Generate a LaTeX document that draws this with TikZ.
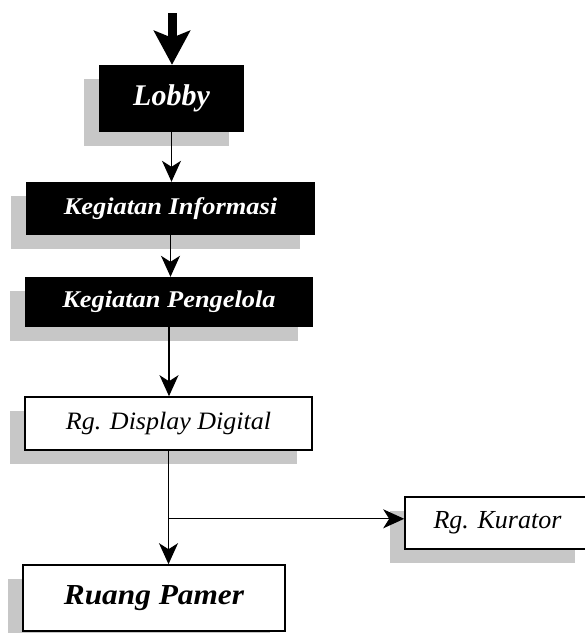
\documentclass[tikz,border=0pt]{standalone}
\usepackage{fontspec}
\setmainfont{Liberation Serif}
\newfontfamily\wideA[FakeStretch=1.1]{Liberation Serif}
\newfontfamily\wideB[FakeStretch=1.04]{Liberation Serif}
\newfontfamily\wideC[FakeStretch=1.08]{Liberation Serif}
\usetikzlibrary{arrows.meta,shadows}
\begin{document}
\begin{tikzpicture}[x=1pt,y=1pt,
  shade/.style={drop shadow={shadow xshift=-15pt,shadow yshift=-14pt,fill=black!22,opacity=1}},
  darkbox/.style={rectangle,fill=black,text=white,inner sep=0pt,shade},
  lightbox/.style={rectangle,draw=black,line width=1.6pt,fill=white,text=black,inner sep=0pt,shade},
  link/.style={draw=black,line width=1.3pt,-{Stealth[length=21pt,width=19pt,inset=6pt]}},
  bigarrow/.style={draw=black,line width=9pt,-{Stealth[length=34pt,width=36pt,inset=7pt]}}
]
\clip (0,0) rectangle (585,-633);
\fill[white] (0,0) rectangle (585,-633);

\node[darkbox,minimum width=145pt,minimum height=67pt] (lobby) at (171.5,-98.5)
  {\fontsize{30}{34}\selectfont\bfseries\itshape Lobby};
\node[darkbox,minimum width=289pt,minimum height=53pt] (info) at (170.5,-208.5)
  {\wideA\fontsize{24}{28}\selectfont\bfseries\itshape Kegiatan Informasi};
\node[darkbox,minimum width=288pt,minimum height=50pt] (kelola) at (169,-302)
  {\wideA\fontsize{24}{28}\selectfont\bfseries\itshape Kegiatan Pengelola};
\node[lightbox,minimum width=287pt,minimum height=53pt] (disp) at (168.5,-423.5)
  {\wideB\fontsize{25}{29}\selectfont\itshape Rg. Display Digital};
\node[lightbox,minimum width=185pt,minimum height=52pt] (kur) at (497.5,-523)
  {\fontsize{26}{30}\selectfont\itshape Rg. Kurator};
\node[lightbox,minimum width=262pt,minimum height=66pt] (ruang) at (154,-598)
  {\wideC\fontsize{29}{33}\selectfont\bfseries\itshape Ruang Pamer};

\coordinate (start) at (172,-13);
\draw[bigarrow] (start) -- (start |- lobby.north);
\draw[link] (lobby.south) -- (lobby.south |- info.north);
\draw[link] (info.south) -- (info.south |- kelola.north);
\draw[link] (kelola.south) -- (kelola.south |- disp.north);
\coordinate (branch) at ([yshift=-68pt]disp.south);
\draw[link] (disp.south) -- (disp.south |- ruang.north);
\draw[link] (branch) -- (branch -| kur.west);
\end{tikzpicture}
\end{document}
